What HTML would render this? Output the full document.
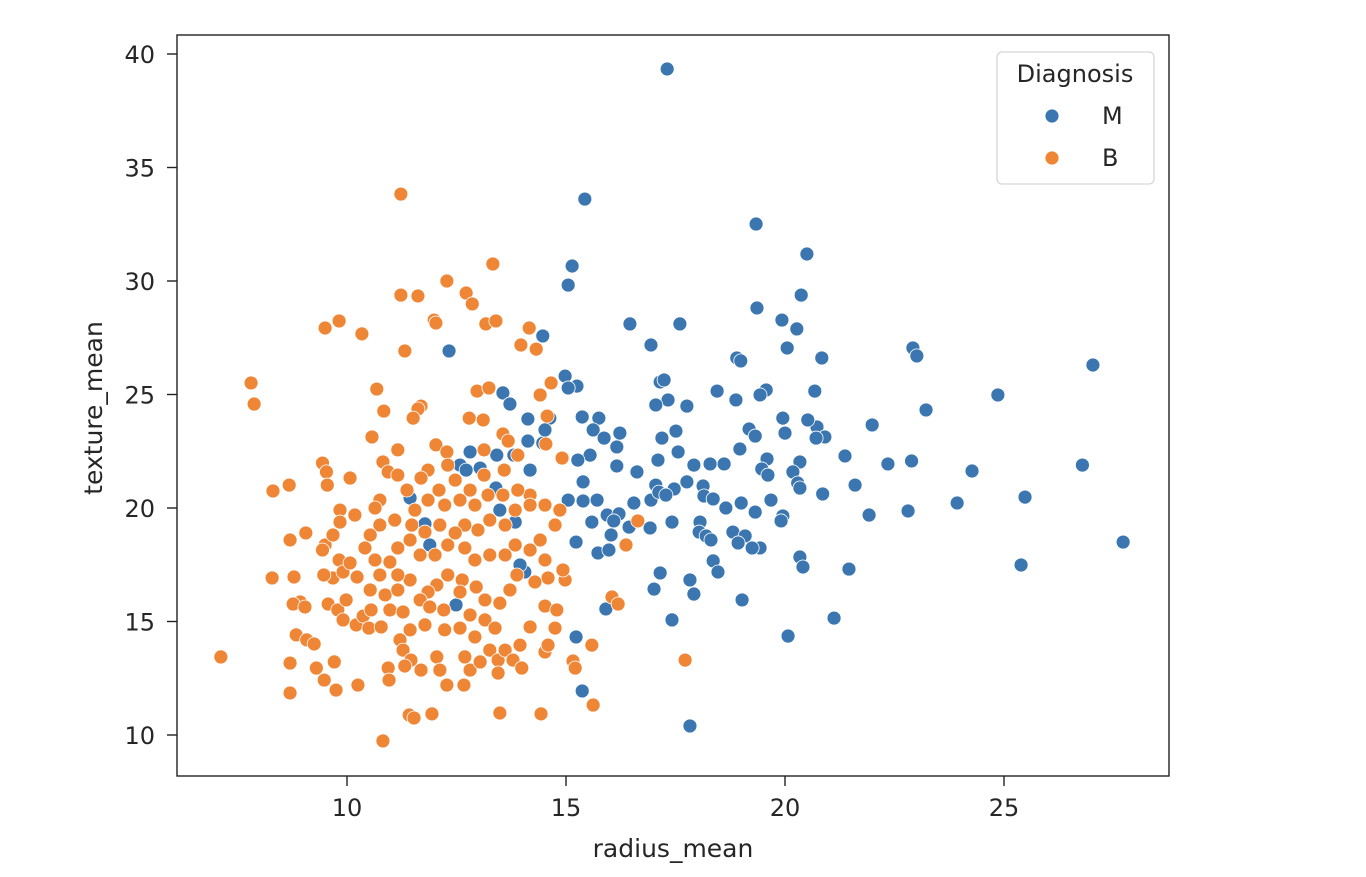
<!DOCTYPE html>
<html><head><meta charset="utf-8"><style>
html,body{margin:0;padding:0;background:#fff;}
svg text{font-family:"DejaVu Sans","Liberation Sans",sans-serif;fill:#262626;}
</style></head><body>
<svg width="1366" height="872" viewBox="0 0 1366 872" id="chart">
<rect x="0" y="0" width="1366" height="872" fill="#fff"/>
<g id="marks"></g>
<rect x="177" y="35" width="992" height="741" fill="none" stroke="#222" stroke-width="1.4"/>
<g id="xticks"></g>
<g id="yticks"></g>
<text x="673" y="857" font-size="25" text-anchor="middle">radius_mean</text>
<text x="102" y="408" font-size="25" text-anchor="middle" transform="rotate(-90 102 408)">texture_mean</text>
<g>
<rect x="997" y="52" width="157" height="132" rx="5" fill="#fff" fill-opacity="0.8" stroke="#d6d6d6" stroke-width="1.3"/>
<text x="1075" y="82" font-size="24" text-anchor="middle">Diagnosis</text>
<circle cx="1052" cy="116" r="7" fill="#3b76b1" stroke="#fff" stroke-width="0.8"/>
<text x="1102" y="124" font-size="24">M</text>
<circle cx="1052" cy="158" r="7" fill="#ef8636" stroke="#fff" stroke-width="0.8"/>
<text x="1102" y="166" font-size="24">B</text>
</g>
</svg>
<script>
const xTicks=[10,15,20,25];
const yTicks=[10,15,20,25,30,35,40];
const mX=[17.31,15.43,19.34,20.50,15.14,15.05,20.37,16.46,17.60,19.36,19.93,20.27,14.47,12.33,16.94,20.84,20.05,22.92,23.01,27.03,18.90,18.99,17.15,17.24,18.45,19.57,19.43,20.68,24.86,23.22,17.33,17.05,17.76,18.88,14.98,15.25,15.05,13.56,13.72,15.37,15.75,14.63,14.13,17.51,17.19,19.18,19.32,20.00,20.73,20.91,21.99,19.95,20.52,20.71,17.10,17.56,15.62,16.23,15.87,16.16,15.55,15.27,14.93,14.47,14.13,14.52,14.18,13.81,13.42,12.81,16.16,16.62,17.05,17.92,18.29,18.61,18.97,19.59,19.47,19.61,20.34,20.18,20.29,20.34,20.86,21.37,21.60,22.35,22.89,24.27,26.79,21.92,22.81,23.93,25.48,27.72,25.39,15.39,15.05,15.39,15.71,15.59,15.94,16.21,16.55,16.94,17.12,17.47,17.76,18.13,18.15,18.36,18.65,19.00,19.32,19.68,19.95,19.91,17.28,16.09,16.44,16.92,17.42,18.06,18.04,18.20,18.31,18.81,19.09,18.93,19.43,19.25,16.03,15.73,15.98,15.23,18.36,18.47,20.34,20.41,21.46,17.83,17.15,17.01,17.92,15.91,17.42,19.02,20.07,21.12,15.23,15.37,17.83,11.44,11.78,11.89,13.40,13.49,13.04,13.84,12.58,12.72,14.06,13.95,12.49];
const mY=[39.34,33.61,32.51,31.19,30.66,29.82,29.38,28.11,28.11,28.81,28.28,27.89,27.58,26.92,27.18,26.61,27.05,27.05,26.70,26.30,26.61,26.48,25.55,25.64,25.15,25.20,24.98,25.15,24.98,24.32,24.76,24.54,24.49,24.76,25.81,25.37,25.29,25.07,24.58,24.01,23.96,23.96,23.92,23.39,23.08,23.48,23.17,23.30,23.57,23.13,23.66,23.96,23.88,23.08,22.11,22.47,23.44,23.30,23.08,22.69,22.33,22.11,22.20,22.86,22.95,23.44,21.67,22.33,22.33,22.47,21.85,21.59,21.01,21.89,21.94,21.94,22.60,22.16,21.72,21.45,22.03,21.59,21.10,20.88,20.62,22.29,21.01,21.94,22.07,21.63,21.89,19.69,19.87,20.22,20.48,18.50,17.49,21.15,20.35,20.31,20.35,19.38,19.69,19.74,20.22,20.35,20.70,20.84,21.15,20.97,20.53,20.40,20.00,20.22,19.82,20.35,19.65,19.43,20.57,19.43,19.16,19.12,19.38,19.38,18.94,18.77,18.59,18.94,18.77,18.46,18.24,18.24,18.81,18.02,18.15,18.50,17.67,17.18,17.84,17.40,17.31,16.83,17.14,16.43,16.21,15.55,15.07,15.95,14.36,15.15,14.32,11.94,10.40,20.44,19.30,18.37,20.88,19.91,21.76,19.38,21.89,21.67,17.18,17.49,15.73];
const bX=[11.23,12.28,13.33,12.72,12.86,11.23,11.62,11.99,12.03,13.17,13.40,14.16,9.82,9.50,10.34,13.97,14.32,11.32,7.81,7.88,10.68,11.69,11.62,10.84,11.51,12.97,13.24,14.41,14.66,14.57,12.79,10.57,11.16,12.03,12.28,13.11,13.56,13.68,13.13,13.90,14.54,14.91,9.44,9.53,9.55,10.07,10.82,10.94,11.16,11.85,11.69,12.10,11.37,10.75,10.64,8.68,8.31,8.70,8.29,9.06,9.50,9.68,9.84,10.18,9.84,9.44,9.82,9.68,9.91,10.07,10.23,9.47,8.79,8.93,8.77,9.04,8.84,9.08,8.70,8.70,7.12,9.30,9.48,9.71,9.75,10.25,9.25,9.57,9.79,9.98,9.91,10.21,10.37,10.55,10.50,10.78,10.98,11.28,11.44,11.21,11.28,11.46,11.32,10.94,10.96,10.82,11.42,11.53,11.94,11.69,12.05,12.12,12.28,12.67,12.69,12.81,13.04,12.92,13.26,13.45,13.61,13.79,13.99,13.45,13.49,14.43,14.52,14.59,14.75,13.95,14.18,14.52,14.79,15.16,15.21,15.59,15.62,16.05,16.19,16.37,17.72,16.64,14.98,14.93,14.59,14.29,13.88,13.72,13.49,13.15,12.95,12.63,12.58,12.30,12.05,11.85,11.67,11.89,12.21,12.81,13.15,13.38,12.58,12.23,11.78,11.44,11.16,10.98,11.16,11.44,11.67,12.01,12.30,12.69,12.92,13.26,13.61,13.84,14.18,14.52,14.41,14.75,14.86,14.52,14.18,13.84,13.61,13.26,12.99,12.69,12.47,12.12,11.78,11.48,11.09,10.75,10.53,10.41,10.64,10.75,10.53,10.87,11.16,11.55,11.85,12.23,12.58,12.92,13.22,13.56,13.90,12.81,12.47,12.30,13.13,13.59,14.18];
const bY=[33.83,30.00,30.75,29.47,28.99,29.38,29.34,28.28,28.15,28.11,28.24,27.93,28.24,27.93,27.67,27.18,27.00,26.92,25.51,24.58,25.24,24.49,24.36,24.27,23.96,25.15,25.29,24.98,25.51,24.05,23.96,23.13,22.56,22.78,22.47,23.88,23.26,22.95,22.56,22.33,22.82,22.20,21.98,21.59,21.01,21.32,22.03,21.59,21.45,21.67,21.32,20.79,20.79,20.35,20.00,21.01,20.75,18.59,16.92,18.90,18.37,18.81,19.91,19.69,19.38,18.15,17.71,16.92,17.18,17.58,16.96,17.05,16.96,15.86,15.77,15.64,14.41,14.19,13.17,11.85,13.44,12.95,12.42,13.22,11.98,12.20,14.01,15.77,15.51,15.95,15.07,14.85,15.24,15.51,14.71,14.76,15.51,15.42,14.63,14.19,13.74,13.30,13.04,12.95,12.42,9.74,10.88,10.75,10.93,12.86,13.44,12.86,12.20,12.20,13.44,12.86,13.22,14.32,13.74,13.30,13.74,13.30,12.95,12.73,10.97,10.93,13.66,13.96,14.71,13.96,14.76,15.68,15.51,13.26,12.95,13.96,11.32,16.08,15.77,18.37,13.30,19.43,16.83,17.27,16.92,16.74,17.05,16.39,15.81,15.95,16.52,16.83,16.30,17.05,16.61,16.30,15.95,15.64,15.51,15.29,15.07,14.71,14.71,14.63,14.85,16.83,17.05,17.62,18.24,18.59,17.93,17.93,18.37,18.24,17.71,17.93,17.93,18.37,18.15,17.71,18.59,19.25,19.91,20.13,20.57,19.91,19.25,19.47,19.03,19.25,18.90,19.25,18.94,19.25,19.47,19.25,18.81,18.24,17.71,17.05,16.39,16.17,16.39,19.91,20.35,20.13,20.35,20.13,20.57,20.57,20.79,20.79,21.23,21.89,21.45,21.67,20.13];
const NS='http://www.w3.org/2000/svg';
const xS=v=>347+(v-10)*43.8;
const yS=v=>735-(v-10)*22.7;
const marks=document.getElementById('marks');
function series(xs,ys,color,name){
  for(let i=0;i<xs.length;i++){
    const c=document.createElementNS(NS,'circle');
    c.setAttribute('cx',xS(xs[i]));c.setAttribute('cy',yS(ys[i]));
    c.setAttribute('r',7);c.setAttribute('fill',color);
    c.setAttribute('stroke','#fff');c.setAttribute('stroke-width','0.8');
    
    
    marks.appendChild(c);
  }
}
series(mX,mY,'#3b76b1','point-m');
series(bX,bY,'#ef8636','point-b');
const xg=document.getElementById('xticks');
xTicks.forEach(t=>{
  const l=document.createElementNS(NS,'line');
  l.setAttribute('x1',xS(t));l.setAttribute('x2',xS(t));l.setAttribute('y1',776);l.setAttribute('y2',786);
  l.setAttribute('stroke','#222');l.setAttribute('stroke-width','1.4');
  
  
  xg.appendChild(l);
  const tx=document.createElementNS(NS,'text');
  tx.setAttribute('x',xS(t));tx.setAttribute('y',816);tx.setAttribute('font-size','24');tx.setAttribute('text-anchor','middle');
  tx.textContent=t;
  
  
  xg.appendChild(tx);
});
const yg=document.getElementById('yticks');
yTicks.forEach(t=>{
  const l=document.createElementNS(NS,'line');
  l.setAttribute('x1',167);l.setAttribute('x2',177);l.setAttribute('y1',yS(t));l.setAttribute('y2',yS(t));
  l.setAttribute('stroke','#222');l.setAttribute('stroke-width','1.4');
  
  
  yg.appendChild(l);
  const tx=document.createElementNS(NS,'text');
  tx.setAttribute('x',155);tx.setAttribute('y',yS(t)+9);tx.setAttribute('font-size','24');tx.setAttribute('text-anchor','end');
  tx.textContent=t;
  
  
  yg.appendChild(tx);
});
</script>
</body></html>
